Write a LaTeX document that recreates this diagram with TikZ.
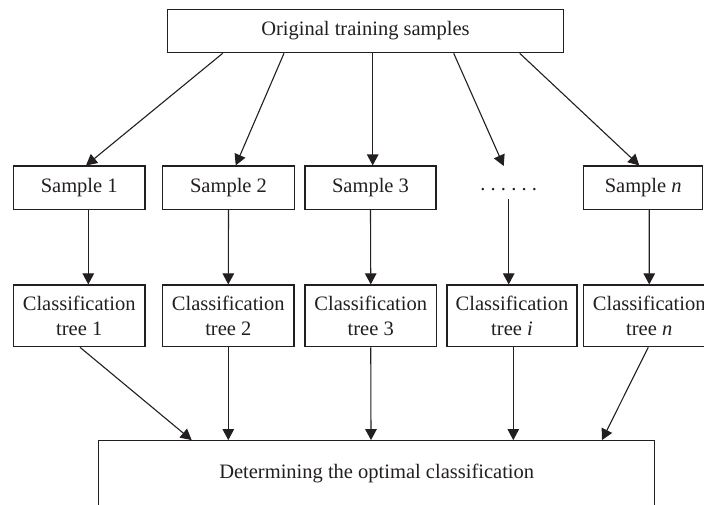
\documentclass[tikz,border=0pt]{standalone}
\usepackage{fontspec}
\setmainfont{Liberation Serif}
\usetikzlibrary{arrows.meta}
\definecolor{ink}{HTML}{231F20}
\begin{document}
\begin{tikzpicture}[x=1pt,y=-1pt,
  box/.style={draw=ink, line width=1.2pt, inner sep=0pt, align=center,
    font=\fontsize{20.5}{25}\selectfont, text=ink},
  lbl/.style={inner sep=0pt, font=\fontsize{20.5}{25}\selectfont, text=ink},
  arr/.style={draw=ink, line width=1.1pt, -{Triangle[length=11pt,width=11.5pt]}},
  smp/.style={box, minimum height=43.3pt},
  tre/.style={box, minimum height=61.7pt}]
\clip (0,0) rectangle (704,504);
\fill[white] (0,0) rectangle (704,504);

% source box
\node[box, minimum width=396.4pt, minimum height=43.4pt] (top) at (365.5,31) {Original training samples};

% bootstrap samples
\node[smp, minimum width=131.7pt] (s1) at (79.2,187.7) {Sample 1};
\node[smp, minimum width=131.6pt] (s2) at (228.5,187.7) {Sample 2};
\node[smp, minimum width=131pt]   (s3) at (370.5,187.7) {Sample 3};
\node[lbl] (dots) at (508.7,189.5) {.\hspace{5.2pt}.\hspace{5.2pt}.\hspace{5.2pt}.\hspace{5.2pt}.\hspace{5.2pt}.};
\coordinate (dotsin) at (503.7,166);
\coordinate (dotsout) at (508.7,199);
\node[smp, minimum width=119pt]   (sn) at (643.2,187.7) {Sample \textit{n}};

% trees
\node[tre, minimum width=131.7pt] (t1) at (79.2,315.85) {Classification\\tree 1};
\node[tre, minimum width=131.5pt] (t2) at (228.3,315.85) {Classification\\tree 2};
\node[tre, minimum width=131.5pt] (t3) at (370.75,315.85) {Classification\\tree 3};
\node[tre, minimum width=130pt]   (ti) at (512,315.85) {Classification\\tree \textit{i}};
\node[tre, minimum width=131.5pt] (tn) at (649.25,315.85) {Classification\\tree \textit{n}};

% final decision
\node[box, minimum width=556pt, minimum height=65.3pt] (fin) at (376.7,473.35) {Determining the optimal classification};

% sampling arrows
\draw[arr] ([xshift=-142.8pt]top.south) -- ([xshift=6.8pt]s1.north);
\draw[arr] ([xshift=-81.5pt]top.south) -- ([xshift=7.2pt]s2.north);
\draw[arr] ([xshift=7.2pt]top.south) -- ([xshift=2.2pt]s3.north);
\draw[arr] ([xshift=88.2pt]top.south) -- (dotsin);
\draw[arr] ([xshift=154.2pt]top.south) -- ([xshift=-3.9pt]sn.north);

% training arrows
\draw[arr] ([xshift=9.1pt]s1.south) -- ([xshift=9.1pt]t1.north);
\draw[arr] (s2.south) -- (t2.north);
\draw[arr] (s3.south) -- (t3.north);
\draw[arr] (dotsout) -- ([xshift=-3.3pt]ti.north);
\draw[arr] ([xshift=6pt]sn.south) -- (tn.north);

% voting arrows
\draw[arr] ([xshift=0.8pt]t1.south) -- ([xshift=-185pt]fin.north);
\draw[arr] (t2.south) -- ([xshift=-148.4pt]fin.north);
\draw[arr] (t3.south) -- ([xshift=-5.7pt]fin.north);
\draw[arr] ([xshift=1.3pt]ti.south) -- ([xshift=136.6pt]fin.north);
\draw[arr] ([xshift=-1pt]tn.south) -- ([xshift=225.3pt]fin.north);
\end{tikzpicture}
\end{document}
